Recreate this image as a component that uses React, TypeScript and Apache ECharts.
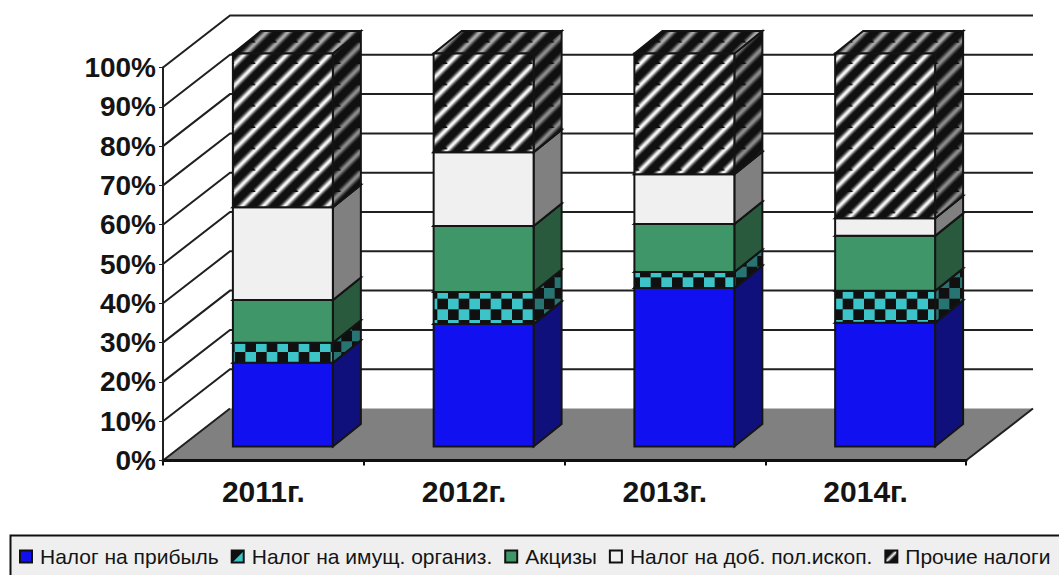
import React, { useEffect, useRef } from "react";
import * as echarts from "echarts";

const categories = ["2011г.", "2012г.", "2013г.", "2014г."];
const yTicks = [10, 20, 30, 40, 50, 60, 70, 80, 90, 100];
const profitTax = [21.3, 31.2, 40.3, 31.5];
const propertyTax = [5.1, 8.1, 4.1, 8.1];
const exciseTax = [10.9, 16.8, 12.2, 14.0];
const miningTax = [23.6, 18.8, 12.7, 4.5];
const otherTaxes = [39.1, 25.1, 30.7, 41.9];
const seriesNames = ["Налог на прибыль", "Налог на имущ. организ.", "Акцизы", "Налог на доб. пол.ископ.", "Прочие налоги"];
const seriesValues = [profitTax, propertyTax, exciseTax, miningTax, otherTaxes];

const WALL = { dx: 67, dy: -52 };
const BAR_FRONT = { dx: 19.5, dy: -14 };
const BAR_DEPTH = { dx: 28, dy: -22.5 };
const EDGE = "#141414";
const T = 64 / 3;

const svgUrl = (body: string) =>
  "data:image/svg+xml," +
  encodeURIComponent(`<svg xmlns="http://www.w3.org/2000/svg" width="${T}" height="${T}" viewBox="0 0 ${T} ${T}">${body}</svg>`);

const stripes = (peak: string, mid: string, low: string) => {
  const l = (c: number, color: string, w: number) =>
    `<line x1="${c + T}" y1="${-T}" x2="${c - T}" y2="${T}" stroke="${color}" stroke-width="${w}"/>`;
  const set = (color: string, w: number) => [0, T, 2 * T].map((c) => l(c, color, w)).join("");
  return {
    type: "pattern",
    image: svgUrl(`<rect width="${T}" height="${T}" fill="#101010"/>${set(low, 8)}${set(mid, 5.5)}${set(peak, 2.8)}`),
    imageWidth: T,
    imageHeight: T,
    repeat: "repeat",
  };
};

const checks = (cell: string, dark: string) => ({
  type: "pattern",
  image: svgUrl(
    `<rect width="${T}" height="${T}" fill="${cell}"/><rect x="${T / 2}" width="${T / 2}" height="${T / 2}" fill="${dark}"/><rect y="${T / 2}" width="${T / 2}" height="${T / 2}" fill="${dark}"/>`
  ),
  imageWidth: T,
  imageHeight: T,
  repeat: "repeat",
  x: 9.7,
  y: 12.7,
});

const faceFills = [
  { front: "#1010f0", side: "#10107c", top: "#10107c" },
  { front: checks("#3cc4c8", "#101010"), side: checks("#287472", "#101010"), top: checks("#287472", "#101010") },
  { front: "#3f9669", side: "#2a5a3e", top: "#2a5a3e" },
  { front: "#f0f0f0", side: "#808080", top: "#b0b0b0" },
  {
    front: stripes("#f4f4f4", "#909090", "#3c3c3c"),
    side: stripes("#8a8a8a", "#585858", "#2c2c2c"),
    top: stripes("#a8a8a8", "#686868", "#303030"),
  },
];

const legendFills: any[] = [
  "#1010f0",
  new echarts.graphic.LinearGradient(0, 0, 1, 1, [
    { offset: 0, color: "#101010" },
    { offset: 0.5, color: "#101010" },
    { offset: 0.55, color: "#3cc4c8" },
    { offset: 1, color: "#3cc4c8" },
  ]),
  "#3f9669",
  "#f0f0f0",
  new echarts.graphic.LinearGradient(0, 0, 1, 1, [
    { offset: 0, color: "#101010" },
    { offset: 0.35, color: "#101010" },
    { offset: 0.5, color: "#f4f4f4" },
    { offset: 0.65, color: "#101010" },
    { offset: 1, color: "#101010" },
  ]),
];

export default function App() {
  const ref = useRef<HTMLDivElement>(null);
  useEffect(() => {
    const chart = echarts.init(ref.current!, null, { renderer: "svg" });

    const wallSeries: any = {
      type: "custom",
      name: "walls",
      silent: true,
      z: 1,
      data: [0, ...yTicks].map((v) => [v]),
      encode: { y: 0 },
      renderItem: (_p: any, api: any) => {
        const v = api.value(0);
        const [x0, y] = api.coord([0, v]);
        const band = api.size([1, 0])[0];
        const left = x0 - band / 2;
        const right = left + band * categories.length;
        const line = { stroke: "#202020", lineWidth: 2, fill: "none" };
        if (v === 0) {
          return {
            type: "group",
            children: [
              {
                type: "polygon",
                shape: { points: [[left, y], [left + WALL.dx, y + WALL.dy], [right + WALL.dx, y + WALL.dy], [right, y]] },
                style: { fill: "#808080" },
              },
              { type: "polyline", shape: { points: [[left, y], [left + WALL.dx, y + WALL.dy]] }, style: line },
              { type: "polyline", shape: { points: [[right, y], [right + WALL.dx, y + WALL.dy]] }, style: line },
            ],
          };
        }
        return {
          type: "polyline",
          shape: { points: [[left, y], [left + WALL.dx, y + WALL.dy], [right + WALL.dx, y + WALL.dy]] },
          style: line,
        };
      },
    };

    const barSeries = seriesNames.map((name, si) => {
      const fills = faceFills[si];
      return {
        type: "custom",
        name,
        z: 3 + si,
        itemStyle: { color: "#808080" },
        data: categories.map((_, ci) => {
          let low = 0;
          for (let k = 0; k < si; k++) low += seriesValues[k][ci];
          return [ci, low, low + seriesValues[si][ci]];
        }),
        encode: { x: 0, y: [1, 2] },
        renderItem: (_p: any, api: any) => {
          const c = api.coord([api.value(0), api.value(1)]);
          const h = api.coord([api.value(0), api.value(2)]);
          const half = api.size([1, 0])[0] * 0.249;
          const xl = c[0] + BAR_FRONT.dx - half;
          const xr = c[0] + BAR_FRONT.dx + half;
          const yb = c[1] + BAR_FRONT.dy;
          const yt = h[1] + BAR_FRONT.dy;
          const { dx, dy } = BAR_DEPTH;
          const face = (points: number[][], fill: any) => ({
            type: "polygon",
            shape: { points },
            style: { fill, stroke: EDGE, lineWidth: 2, lineJoin: "miter" },
          });
          return {
            type: "group",
            children: [
              face([[xr, yb], [xr + dx, yb + dy], [xr + dx, yt + dy], [xr, yt]], fills.side),
              face([[xl, yt], [xr, yt], [xr + dx, yt + dy], [xl + dx, yt + dy]], fills.top),
              face([[xl, yb], [xr, yb], [xr, yt], [xl, yt]], fills.front),
            ],
          };
        },
      };
    });

    chart.setOption({
      animation: false,
      backgroundColor: "#ffffff",
      grid: { left: 163, width: 803, top: 67.5, height: 393, containLabel: false },
      xAxis: {
        type: "category",
        data: categories,
        z: 8,
        axisLine: { show: true, lineStyle: { color: "#101010", width: 3 } },
        axisTick: { show: true, length: 5, lineStyle: { color: "#101010", width: 2 } },
        axisLabel: { margin: 16, color: "#141414", fontFamily: "Liberation Sans", fontWeight: "bold", fontSize: 30 },
        splitLine: { show: false },
      },
      yAxis: {
        type: "value",
        min: 0,
        max: 100,
        interval: 10,
        z: 8,
        axisLine: { show: true, lineStyle: { color: "#202020", width: 2 } },
        axisTick: { show: true, length: 4, lineStyle: { color: "#202020", width: 1 } },
        axisLabel: { margin: 7, color: "#141414", fontFamily: "Liberation Sans", fontWeight: "bold", fontSize: 28, formatter: "{value}%" },
        splitLine: { show: false },
      },
      legend: {
        show: true,
        left: 19,
        top: 546,
        padding: 0,
        itemWidth: 12,
        itemHeight: 12,
        itemGap: 12,
        selectedMode: false,
        textStyle: { color: "#141414", fontFamily: "Liberation Sans", fontSize: 21, padding: [0, 0, 0, 3] },
        data: seriesNames.map((name, i) => ({
          name,
          icon: "rect",
          itemStyle: { color: legendFills[i], borderColor: "#101010", borderWidth: 2 },
        })),
      },
      graphic: [
        {
          type: "rect",
          z: -1,
          shape: { x: 10.5, y: 535.5, width: 1070, height: 60 },
          style: { fill: "#efefef", stroke: "#101010", lineWidth: 2 },
        },
      ],
      series: [wallSeries, ...barSeries],
    });
    return () => chart.dispose();
  }, []);
  return <div ref={ref} style={{ position: "fixed", left: 0, top: 0, width: 1059, height: 575 }} />;
}
